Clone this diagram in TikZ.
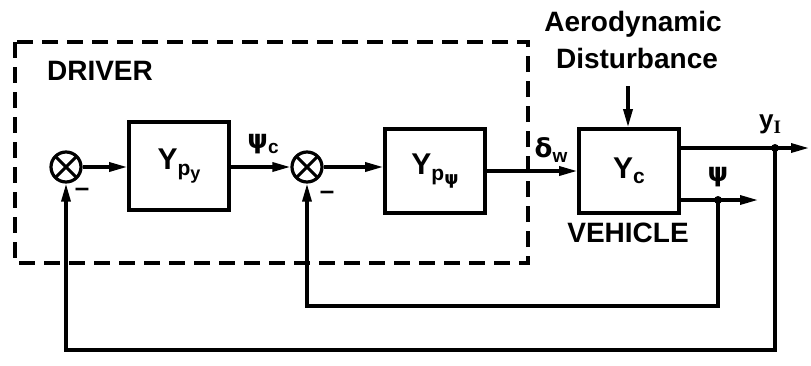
\documentclass[tikz,border=0pt]{standalone}
\usepackage{fontspec}
\setmainfont{Liberation Sans}
\newfontfamily\gr{DejaVu Sans}
\newfontfamily\serifI{Liberation Serif}
\usetikzlibrary{arrows.meta}
\begin{document}
\begin{tikzpicture}[x=1pt,y=-1pt,line width=3.2pt,
  arr/.style={-{Triangle[length=18pt,width=9pt]}},
  blk/.style={draw,line width=3.6pt,minimum width=100pt,minimum height=84pt,inner sep=0pt,font=\fontsize{30}{32}\selectfont\bfseries},
  sumnode/.style={circle,draw,line width=3.2pt,minimum size=30pt,inner sep=0pt,
    path picture={\draw[line width=3pt] (path picture bounding box.north west)--(path picture bounding box.south east)
      (path picture bounding box.north east)--(path picture bounding box.south west);}},
  lbl/.style={font=\fontsize{28}{30}\selectfont\bfseries,inner sep=0pt},
  sym/.style={font=\fontsize{26}{28}\selectfont\bfseries,inner sep=0pt}]
\useasboundingbox (0,0) rectangle (811,365);
% driver frame
\draw[dash pattern=on 16pt off 9pt] (15,42) rectangle (528,263);
\node[lbl] (driver) at (100,71) {DRIVER};
% blocks
\node[sumnode] (s1) at (66,167) {};
\node[blk,minimum height=88pt] (py) at (179,166) {Y\raisebox{-0.35ex}{\fontsize{21}{21}\selectfont p\raisebox{-0.35ex}{\fontsize{18}{18}\selectfont y}}};
\node[sumnode] (s2) at (307,167) {};
\node[blk] (ppsi) at (435,171) {Y\raisebox{-0.35ex}{\fontsize{21}{21}\selectfont p\raisebox{-0.35ex}{\fontsize{18}{18}\selectfont\gr ψ}}};
\node[blk] (yc) at (629,171) {Y\raisebox{-0.35ex}{\fontsize{21}{21}\selectfont c}};
% texts
\node[lbl] (aero) at (633,24) {Aerodynamic};
\node[lbl] (dist) at (637,58) {Disturbance};
\node[lbl] (veh) at (628,233) {VEHICLE};
\node[sym] (psic) at (263,144) {{\gr ψ}\raisebox{-0.4ex}{\fontsize{19}{19}\selectfont c}};
\node[sym] (dw) at (551,150) {{\gr δ}\raisebox{-0.4ex}{\fontsize{19}{19}\selectfont w}};
\node[sym] (yI) at (770,124) {y\raisebox{-0.4ex}{\fontsize{19}{19}\selectfont\serifI I}};
\node[sym] (psi) at (718,177) {\gr ψ};
\node[sym] (m1) at (82,192) {\textendash};
\node[sym] (m2) at (327,195) {\textendash};
% forward path
\draw[arr] (s1) -- (py.west |- s1);
\draw[arr] (py.east |- s2) -- (s2);
\draw[arr] (s2) -- (ppsi.west |- s2);
\draw[arr] (ppsi.east) -- (yc.west);
\coordinate (dtop) at (628,86);
\draw[arr] (dtop) -- (yc.north -| dtop);
% outputs
\coordinate (j1) at (775,148);
\coordinate (o1) at (809,148);
\coordinate (j2) at (718,200);
\coordinate (o2) at (758,200);
\draw[arr] (yc.east |- j1) -- (o1);
\draw[arr] (yc.east |- j2) -- (o2);
\fill (j1) circle (4pt) (j2) circle (4pt);
% feedback
\coordinate (b2) at (718,306);
\coordinate (b1) at (775,350);
\draw[arr] (j2) -- (b2) -| (s2.south);
\draw[arr] (j1) -- (b1) -| (s1.south);
\end{tikzpicture}
\end{document}
